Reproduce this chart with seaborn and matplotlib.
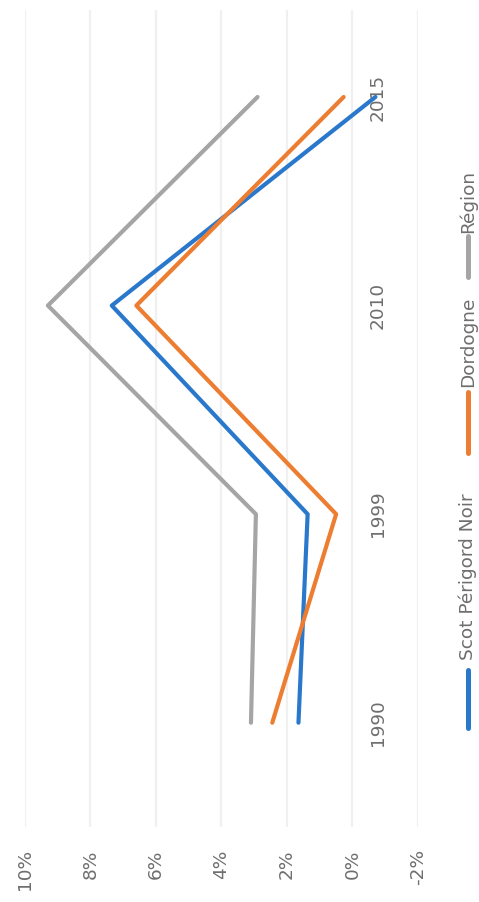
import matplotlib
matplotlib.use("Agg")
import matplotlib.pyplot as plt
from matplotlib.lines import Line2D
from matplotlib.transforms import blended_transform_factory
import seaborn as sns
import pandas as pd

# Annual growth rates (%) by census period
years = ["1990", "1999", "2010", "2015"]
scot = [1.65, 1.37, 7.35, -0.7]
dordogne = [2.45, 0.5, 6.6, 0.27]
region = [3.1, 2.95, 9.3, 2.9]
series_names = ["Scot Périgord Noir", "Dordogne", "Région"]
value_ticks = [10, 8, 6, 4, 2, 0, -2]
value_labels = ["10%", "8%", "6%", "4%", "2%", "0%", "-2%"]

colors = {"Scot Périgord Noir": "#2a78cc",
          "Dordogne": "#ED7D31",
          "Région": "#A5A5A5"}

rows = []
for name, vals in zip(series_names, [scot, dordogne, region]):
    for i, v in enumerate(vals):
        rows.append({"serie": name, "pos": i, "value": v})
df = pd.DataFrame(rows)

sns.set_theme(style="white")
plt.rcParams["font.family"] = ["DejaVu Sans"]
text_color = "#6e6e6e"
fs = 13.3

fig = plt.figure(figsize=(4.79, 9.02), dpi=100)
ax = fig.add_axes([25 / 479, 75 / 902, 393 / 479, 817 / 902])

# Chart drawn turned a quarter turn: values run horizontally, years vertically
sns.lineplot(data=df, x="value", y="pos", hue="serie", palette=colors,
             hue_order=series_names, orient="y", sort=False,
             linewidth=3.0, legend=False, ax=ax)

ax.set_xlim(10, -2)
ax.set_ylim(-0.5, 3.417)
ax.set_xticks(value_ticks)
ax.set_xticklabels(value_labels, rotation=90, va="top", ha="center",
                   color=text_color, fontsize=fs)
ax.tick_params(axis="x", length=0, pad=16)
ax.set_yticks([])
ax.set_xlabel("")
ax.set_ylabel("")
ax.grid(axis="x", color="#f0f0f0", linewidth=1.6)
ax.grid(axis="y", visible=False)
for s in ax.spines.values():
    s.set_visible(False)

# Year labels placed just past the zero line
trans = blended_transform_factory(ax.transAxes, ax.transData)
for i, yr in enumerate(years):
    ax.text((378 - 25) / 393, i, yr, rotation=90, ha="center", va="center",
            color=text_color, fontsize=fs, transform=trans)

# Legend, stacked along the right edge
legend_items = [("Scot Périgord Noir", 728, 670, 660),
                ("Dordogne", 453, 392, 387),
                ("Région", 277, 236, 233)]
lx = 468
for name, k0, k1, t0 in legend_items:
    fig.lines.append(Line2D([lx / 479, lx / 479],
                            [1 - k0 / 902, 1 - k1 / 902],
                            color=colors[name], linewidth=3.6,
                            transform=fig.transFigure))
    fig.text(lx / 479, 1 - t0 / 902, name, rotation=90, ha="center",
             va="bottom", color=text_color, fontsize=fs)

fig.savefig("out.png", dpi=100, facecolor="white")
